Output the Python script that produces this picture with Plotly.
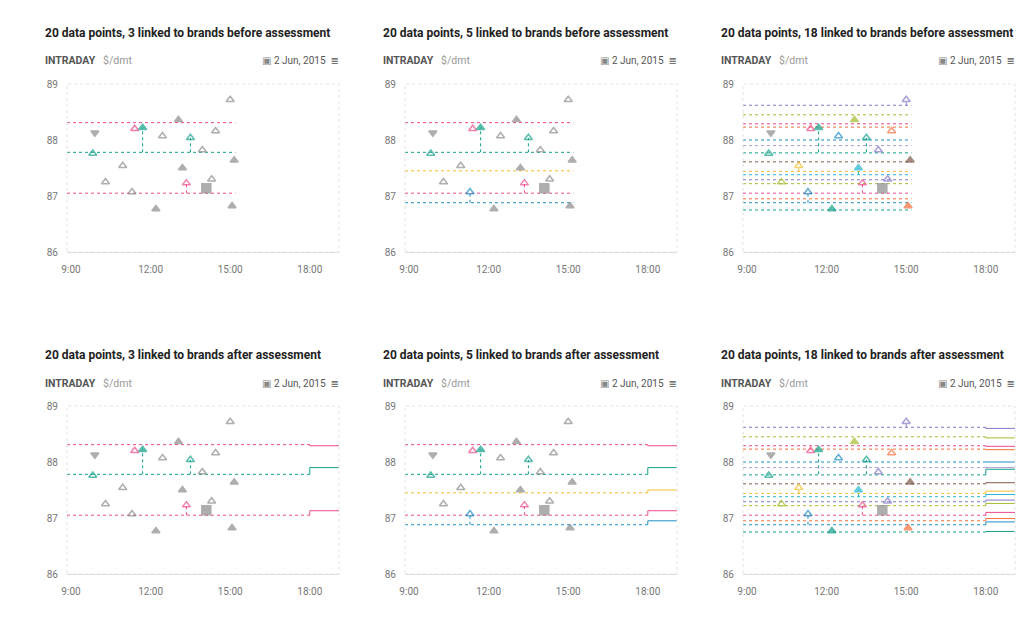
import plotly.graph_objects as go

# point data shared by all six panels (hour of day, price)
pt_hour = [9.9, 9.82, 10.3, 10.95, 11.3, 11.4, 11.7, 12.45, 12.2, 13.05,
           13.2, 13.35, 13.5, 13.95, 14.1, 14.3, 14.45, 15.0, 15.15, 15.07]
pt_price = [88.13, 87.76, 87.25, 87.54, 87.07, 88.2, 88.22, 88.07, 86.77, 88.36,
            87.5, 87.23, 88.04, 87.82, 87.14, 87.3, 88.16, 88.72, 87.64, 86.82]
pt_kind = ['down', 'open', 'open', 'open', 'open', 'open', 'fill', 'open', 'fill', 'fill',
           'fill', 'open', 'open', 'open', 'square', 'open', 'open', 'open', 'fill', 'fill']

col_3 = ['g', 'teal', 'g', 'g', 'g', 'pink', 'teal', 'g', 'g', 'g',
         'g', 'pink', 'teal', 'g', 'g', 'g', 'g', 'g', 'g', 'g']
col_5 = ['g', 'teal', 'g', 'g', 'blue', 'pink', 'teal', 'g', 'g', 'g',
         'g', 'pink', 'teal', 'g', 'g', 'g', 'g', 'g', 'g', 'g']
col_18 = ['g', 'teal', 'olive', 'yellow', 'blue', 'pink', 'teal', 'blue', 'teal', 'olive',
          'cyan', 'pink', 'teal', 'purple', 'g', 'purple', 'orange', 'purple', 'brown', 'orange']

lvl_3 = [88.31, 87.78, 87.05]
lvl_3_after = [88.29, 87.9, 87.13]
lvl_3_col = ['pink', 'teal', 'pink']
lvl_5 = [88.31, 87.78, 87.45, 87.05, 86.88]
lvl_5_after = [88.29, 87.9, 87.5, 87.13, 86.95]
lvl_5_col = ['pink', 'teal', 'yellow', 'pink', 'blue']
lvl_18 = [88.62, 88.45, 88.29, 88.23, 88.0, 87.9, 87.77, 87.61,
          87.44, 87.38, 87.29, 87.22, 87.05, 86.95, 86.88, 86.75]
lvl_18_after = [88.6, 88.43, 88.28, 88.22, 88.0, 87.9, 87.87, 87.63,
                87.48, 87.42, 87.32, 87.26, 87.1, 86.99, 86.93, 86.76]
lvl_18_col = ['purple', 'olive', 'pink', 'orange', 'blue', 'lavender', 'teal', 'brown',
              'yellow', 'cyan', 'purple', 'olive', 'pink', 'orange', 'blue', 'teal']

# connectors: (hour, from, to, colour)
con_3 = [(11.7, 87.78, 88.22, 'teal'), (13.5, 87.78, 88.04, 'teal'), (13.35, 87.05, 87.23, 'pink')]
con_5 = con_3 + [(11.3, 86.88, 87.07, 'blue')]
con_18 = con_5 + [(15.0, 88.62, 88.72, 'purple'), (10.95, 87.44, 87.54, 'yellow'),
                  (13.2, 87.38, 87.5, 'cyan')]

titles = ['20 data points, 3 linked to brands before assessment',
          '20 data points, 5 linked to brands before assessment',
          '20 data points, 18 linked to brands before assessment',
          '20 data points, 3 linked to brands after assessment',
          '20 data points, 5 linked to brands after assessment',
          '20 data points, 18 linked to brands after assessment']

C = {'g': '#8c8c8c', 'teal': '#12a08a', 'pink': '#ec4a8c', 'blue': '#1e8fc6',
     'yellow': '#f3c02c', 'purple': '#8577c6', 'lavender': '#b09ad8', 'olive': '#a5bd2e',
     'orange': '#f36f3a', 'brown': '#7d5b4c', 'cyan': '#25b6d2'}
SYM = {'down': 'triangle-down', 'open': 'triangle-up-open', 'fill': 'triangle-up', 'square': 'square'}

W, H = 1024, 640
fig = go.Figure()
panels = [(col_3, lvl_3, lvl_3_after, lvl_3_col, con_3),
          (col_5, lvl_5, lvl_5_after, lvl_5_col, con_5),
          (col_18, lvl_18, lvl_18_after, lvl_18_col, con_18)]

for i in range(6):
    r, c = divmod(i, 3)
    cols, lv, lva, lvc, con = panels[c]
    after = r == 1
    n = i + 1
    xa, ya = ('x%d' % n if n > 1 else 'x'), ('y%d' % n if n > 1 else 'y')
    ox, oy = c * 338, r * 322
    x0, x1 = (59 + ox) / W, (331 + ox) / W
    y0, y1 = 1 - (244 + oy) / H, 1 - (76 + oy) / H
    fig.update_layout({
        'xaxis%d' % n if n > 1 else 'xaxis': dict(
            domain=[x0, x1], range=[8.85, 19.1], anchor=ya, tickvals=[9, 12, 15, 18],
            ticktext=['9:00', '12:00', '15:00', '18:00'], showgrid=False, zeroline=False,
            showline=True, linecolor='#dddddd', tickfont=dict(size=10, color='#777'),
            ticks='outside', ticklen=8, tickcolor='rgba(0,0,0,0)', automargin=False),
        'yaxis%d' % n if n > 1 else 'yaxis': dict(
            domain=[y0, y1], range=[86, 89], anchor=xa, tickvals=[86, 87, 88, 89],
            showgrid=False, zeroline=False, tickfont=dict(size=10, color='#777'),
            ticks='outside', ticklen=6, tickcolor='rgba(0,0,0,0)', automargin=False),
    })
    fig.add_shape(type='rect', xref='%s domain' % xa, yref='%s domain' % ya, x0=0, x1=1, y0=0, y1=1,
                  line=dict(color='#e2e2e2', width=1, dash='dot'))
    for lvl, lvl2, lc in zip(lv, lva, lvc):
        end = 18 if after else 15.2
        fig.add_trace(go.Scatter(x=[8.85, end], y=[lvl, lvl], mode='lines', xaxis=xa, yaxis=ya,
                                 line=dict(color=C[lc], width=1, dash='dot'), hoverinfo='skip'))
        if after:
            fig.add_trace(go.Scatter(x=[18, 18, 19.1], y=[lvl, lvl2, lvl2], mode='lines', xaxis=xa,
                                     yaxis=ya, line=dict(color=C[lc], width=1), hoverinfo='skip'))
    for hx, ya0, ya1, cc in con:
        fig.add_trace(go.Scatter(x=[hx, hx], y=[ya0, ya1], mode='lines', xaxis=xa, yaxis=ya,
                                 line=dict(color=C[cc], width=1, dash='dot'), hoverinfo='skip'))
    fig.add_trace(go.Scatter(
        x=pt_hour, y=pt_price, mode='markers', xaxis=xa, yaxis=ya,
        marker=dict(symbol=[SYM[k] for k in pt_kind], color=[C[k] for k in cols],
                    size=[9 if k == 'square' else 7 for k in pt_kind],
                    line=dict(width=1.5, color=[C[k] for k in cols]))))
    fig.add_annotation(text='<b>%s</b>' % titles[i], x=(35 + ox) / W, y=1 - (25 + oy) / H,
                       xref='paper', yref='paper', xanchor='left', yanchor='middle', showarrow=False,
                       font=dict(size=12, color='#222'))
    fig.add_annotation(text='<b>INTRADAY</b>   <span style="color:#999">$/dmt</span>',
                       x=(35 + ox) / W, y=1 - (53 + oy) / H, xref='paper', yref='paper',
                       xanchor='left', yanchor='middle', showarrow=False, font=dict(size=10.5, color='#555'))
    fig.add_annotation(text='<span style="color:#888">\u25A3</span> 2 Jun, 2015  \u2263',
                       x=(333 + ox) / W, y=1 - (53 + oy) / H,
                       xref='paper', yref='paper', xanchor='right', yanchor='middle', showarrow=False,
                       font=dict(size=10, color='#555'))

fig.update_layout(width=W, height=H, margin=dict(l=0, r=0, t=0, b=0, autoexpand=False),
                  showlegend=False, plot_bgcolor='white', paper_bgcolor='white',
                  font=dict(family='Roboto, DejaVu Sans, sans-serif'))
fig.write_html("out.html", config={'displayModeBar': False})
